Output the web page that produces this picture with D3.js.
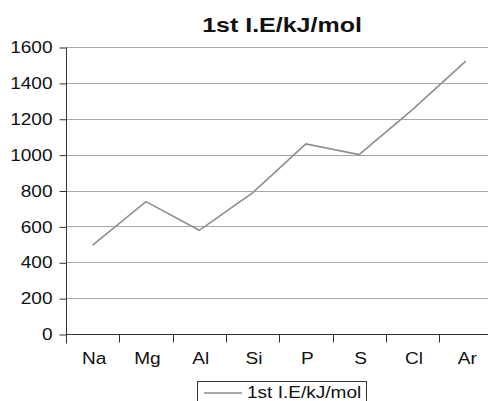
<!DOCTYPE html>
<html>
<head>
	<title>1st I.E</title>
	<script type="text/javascript" src="https://cdnjs.cloudflare.com/ajax/libs/d3/7.8.5/d3.min.js"></script>
	<style>
		body { margin: 0; background: #fff; }
		text { font-family: "Liberation Sans", Arial, sans-serif; }
	</style>
</head>
<body>
	<svg id="chart" width="488" height="401"></svg>
	<script type="text/javascript">
		var elements = ["Na", "Mg", "Al", "Si", "P", "S", "Cl", "Ar"];
		var energies = [496, 738, 578, 787, 1060, 1000, 1251, 1521];
		var yTicks = [0, 200, 400, 600, 800, 1000, 1200, 1400, 1600];
		var seriesName = "1st I.E/kJ/mol";

		var svg = d3.select("#chart");
		var plotLeft = 66, plotTop = 47, plotBottom = 334;
		var step = 53.3;
		var stretch = 1.19; //the reference type is wider than Liberation Sans

		var x = d3.scaleBand()
			.domain(elements)
			.range([plotLeft, plotLeft + step * elements.length]);
		var y = d3.scaleLinear()
			.domain([0, 1600])
			.range([plotBottom, plotTop]);

		//places a horizontally stretched text
		function wideText(parent, tx, ty, str, size, anchor, bold) {
			return parent.append("text")
				.attr("transform", "translate(" + tx + "," + ty + ") scale(" + stretch + ",1)")
				.attr("text-anchor", anchor)
				.attr("font-size", size)
				.attr("font-weight", bold ? "bold" : "normal")
				.attr("fill", "#111")
				.text(str);
		}

		//grid lines
		svg.append("g")
			.selectAll("line")
			.data(yTicks.filter(function (d) { return d > 0; }))
			.enter().append("line")
			.attr("x1", plotLeft)
			.attr("x2", 488)
			.attr("y1", function (d) { return Math.round(y(d)) + 0.5; })
			.attr("y2", function (d) { return Math.round(y(d)) + 0.5; })
			.attr("stroke", "#a8a8a8")
			.attr("stroke-width", 1);

		//y axis
		var yAxis = svg.append("g")
			.attr("transform", "translate(" + (plotLeft + 0.5) + ",0.5)")
			.call(d3.axisLeft(y).tickValues(yTicks).tickFormat(d3.format("d"))
				.tickSize(7).tickPadding(5).tickSizeOuter(0));
		yAxis.selectAll("text")
			.attr("font-size", 16)
			.attr("fill", "#111")
			.attr("x", null)
			.attr("transform", "translate(-14,0) scale(" + stretch + ",1)");
		yAxis.selectAll("line").attr("stroke", "#333");
		yAxis.select(".domain").attr("stroke", "#333").attr("d", "M0," + (plotBottom + 9) + "V" + plotTop);

		//x axis
		var xAxis = svg.append("g")
			.attr("transform", "translate(0," + (plotBottom + 0.5) + ")")
			.call(d3.axisBottom(x).tickSize(0).tickPadding(18));
		xAxis.selectAll("text")
			.attr("font-size", 16)
			.attr("fill", "#111")
			.attr("transform", "translate(1.5,0) scale(" + stretch + ",1)");
		xAxis.select(".domain").attr("stroke", "#333").attr("d", "M" + plotLeft + ",0H488");
		xAxis.selectAll(".sep")
			.data(elements)
			.enter().append("line")
			.attr("class", "sep")
			.attr("x1", function (d) { return Math.round(x(d)) + 0.5; })
			.attr("x2", function (d) { return Math.round(x(d)) + 0.5; })
			.attr("y1", 0)
			.attr("y2", 8)
			.attr("stroke", "#333");

		//series line
		var line = d3.line()
			.x(function (d, i) { return x(elements[i]) + x.bandwidth() / 2; })
			.y(function (d) { return y(d); });
		svg.append("path")
			.datum(energies)
			.attr("d", line)
			.attr("fill", "none")
			.attr("stroke", "#8e8e8e")
			.attr("stroke-width", 1.6);

		//title
		wideText(svg, 282, 31.5, seriesName, 21, "middle", true);

		//legend
		var legend = svg.append("g");
		legend.append("rect")
			.attr("x", 197.5)
			.attr("y", 381.5)
			.attr("width", 169)
			.attr("height", 30)
			.attr("fill", "#fff")
			.attr("stroke", "#333");
		legend.append("line")
			.attr("x1", 204)
			.attr("x2", 242)
			.attr("y1", 393)
			.attr("y2", 393)
			.attr("stroke", "#8e8e8e")
			.attr("stroke-width", 1.6);
		wideText(legend, 247, 397.5, seriesName, 16, "start", false);
	</script>
</body>
</html>
